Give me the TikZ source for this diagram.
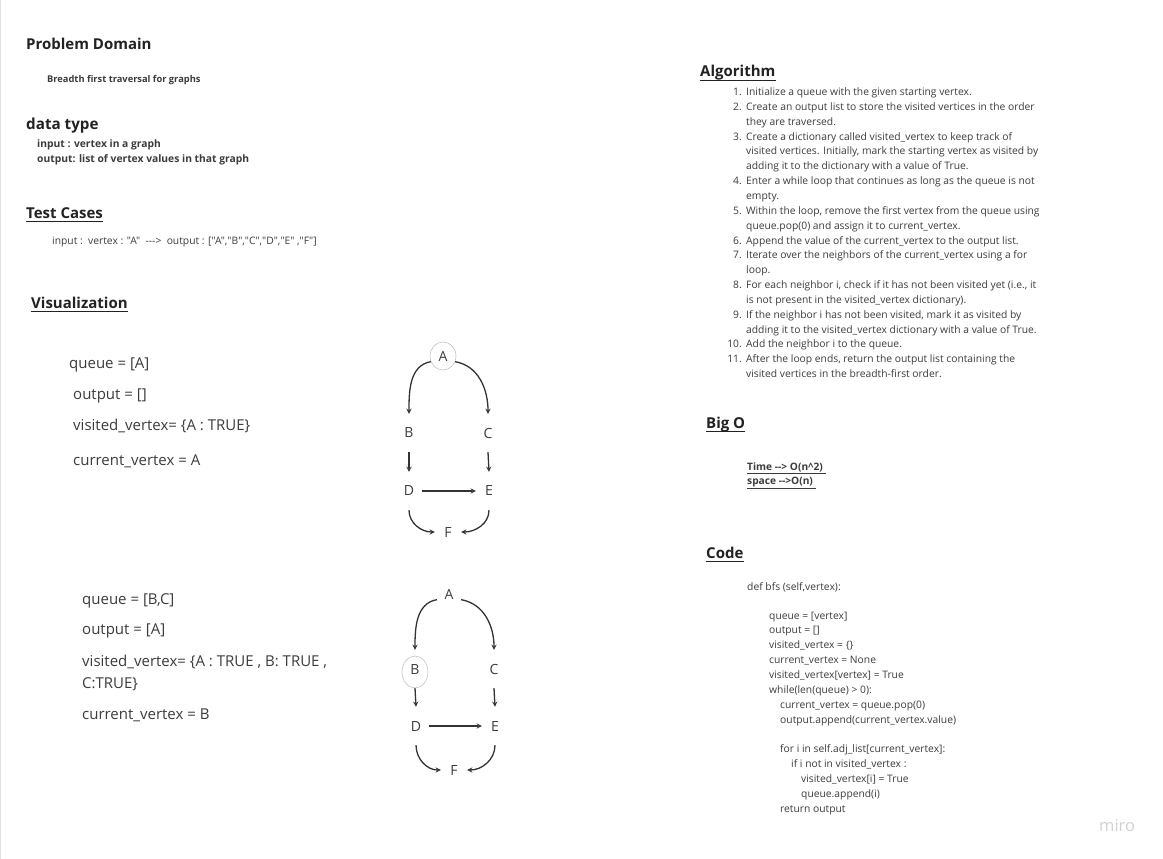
\documentclass[tikz,border=0pt]{standalone}
\usepackage{fontspec}
\setmainfont{Open Sans}[Ligatures=TeXOff]
\usetikzlibrary{shapes.geometric}

\definecolor{tinta}{HTML}{222222}
\definecolor{gris}{HTML}{3C3C3C}
\definecolor{linea}{HTML}{333333}

\tikzset{
  titulo/.style={font=\fontsize{15}{18}\selectfont\bfseries, anchor=base west, inner sep=0, text=tinta},
  chico/.style={font=\fontsize{10.3}{12}\selectfont\bfseries, anchor=base west, inner sep=0, text=gris},
  texto/.style={font=\fontsize{10.3}{12}\selectfont, anchor=base west, inner sep=0, text=gris},
  estado/.style={font=\fontsize{15}{18}\selectfont, anchor=base west, inner sep=0, text=gris},
  vert/.style={font=\fontsize{14}{17}\selectfont, text=gris, minimum width=26pt, minimum height=38pt, inner sep=0},
  flecha/.style={->, >=stealth, line width=1.3pt, draw=linea},
  anillo/.style={draw=gray!55, line width=0.5pt},
}

\begin{document}
\begin{tikzpicture}[x=1pt,y=1pt]
    % Fondo
    \fill[white] (0,0) rectangle (1163,-859);
    \useasboundingbox (0,0) rectangle (1163,-859);
    \draw[gray!25] (0.5,0) -- (0.5,-859);

    % Columna izquierda
    \node[titulo] (prob) at (26,-50) {Problem Domain};
    \node[chico, font=\fontsize{9.3}{11}\selectfont\bfseries] (desc) at (47,-82) {Breadth first traversal for graphs};
    \node[titulo, font=\fontsize{15.2}{18}\selectfont\bfseries] (dtipo) at (26,-129) {data type};
    \node[chico] (ent) at (37,-147) {input : vertex in a graph};
    \node[chico] (sal) at (37,-162) {output: list of vertex values in that graph};
    \node[titulo] (test) at (26,-218) {Test Cases};
    \node[texto] (caso) at (52,-244) {input :\ \ vertex : "A"\ \ --->\ \ output : ["A","B","C","D","E" ,"F"]};
    \node[titulo] (vis) at (31,-308) {Visualization};

    % Estado 1
    \node[estado] (q1) at (69,-368) {queue = [A]};
    \node[estado] (o1) at (73,-399) {output = []};
    \node[estado] (v1) at (73,-430) {visited\_vertex= \{A : TRUE\}};
    \node[estado] (cv1) at (73,-465) {current\_vertex = A};

    % Grafo 1
    \node[vert, ellipse, draw=gray!55, line width=0.5pt, minimum width=26pt, minimum height=28pt] (a1) at (443,-356) {A};
    \node[vert] (b1) at (409,-433) {B};
    \node[vert] (c1) at (488,-433) {C};
    \node[vert] (d1) at (409,-491) {D};
    \node[vert] (e1) at (489,-491) {E};
    \node[vert] (f1) at (448,-532) {F};
    \draw[flecha] (a1.205) to[out=190,in=90] (b1.north);
    \draw[flecha] (a1.335) to[out=-10,in=90] (c1.north);
    \draw[flecha] (b1.south) -- (d1.north);
    \draw[flecha] (c1.south) -- (e1.north);
    \draw[flecha] (d1.east) -- (e1.west);
    \draw[flecha] (d1.south) to[out=-90,in=180] (f1.west);
    \draw[flecha] (e1.south) to[out=-90,in=0] (f1.east);

    % Estado 2
    \node[estado] (q2) at (82,-604) {queue = [B,C]};
    \node[estado] (o2) at (82,-634) {output = [A]};
    \node[estado] (v2) at (82,-666) {visited\_vertex= \{A : TRUE , B: TRUE ,};
    \node[estado] (v2b) at (82,-688) {C:TRUE\}};
    \node[estado] (cv2) at (82,-719) {current\_vertex = B};

    % Grafo 2
    \node[vert, ellipse, minimum width=26pt, minimum height=28pt] (a2) at (449,-594) {A};
    \node[vert] (b2) at (415,-669) {B};
    \node[vert] (c2) at (494,-669) {C};
    \node[vert] (d2) at (416,-726) {D};
    \node[vert] (e2) at (495,-726) {E};
    \node[vert] (f2) at (454,-770) {F};
    \draw[anillo] (415,-672) ellipse [x radius=13, y radius=16];
    \draw[flecha] (a2.205) to[out=190,in=90] (b2.north);
    \draw[flecha] (a2.335) to[out=-10,in=90] (c2.north);
    \draw[flecha] (b2.south) -- (d2.north);
    \draw[flecha] (c2.south) -- (e2.north);
    \draw[flecha] (d2.east) -- (e2.west);
    \draw[flecha] (d2.south) to[out=-90,in=180] (f2.west);
    \draw[flecha] (e2.south) to[out=-90,in=0] (f2.east);

    % Algoritmo
    \node[titulo] (alg) at (700,-77) {Algorithm};
    \foreach \n/\t [count=\k] in {
        1./{Initialize a queue with the given starting vertex.},
        2./{Create an output list to store the visited vertices in the order},
        /{they are traversed.},
        3./{Create a dictionary called visited\_vertex to keep track of},
        /{visited vertices. Initially, mark the starting vertex as visited by},
        /{adding it to the dictionary with a value of True.},
        4./{Enter a while loop that continues as long as the queue is not},
        /{empty.},
        5./{Within the loop, remove the first vertex from the queue using},
        /{queue.pop(0) and assign it to current\_vertex.},
        6./{Append the value of the current\_vertex to the output list.},
        7./{Iterate over the neighbors of the current\_vertex using a for},
        /{loop.},
        8./{For each neighbor i, check if it has not been visited yet (i.e., it},
        /{is not present in the visited\_vertex dictionary).},
        9./{If the neighbor i has not been visited, mark it as visited by},
        /{adding it to the visited\_vertex dictionary with a value of True.},
        10./{Add the neighbor i to the queue.},
        11./{After the loop ends, return the output list containing the},
        /{visited vertices in the breadth-first order.}}
    {
        \node[texto, anchor=base east] (num\k) at (742,{-95.5-14.85*(\k-1)}) {\n};
        \node[texto] (paso\k) at (746,{-95.5-14.85*(\k-1)}) {\t};
    }

    % Big O
    \node[titulo] (bigo) at (706,-428) {Big O};
    \node[chico, font=\fontsize{10.2}{12}\selectfont\bfseries] (tiempo) at (747,-470.5) {\underline{Time --> O(n\textasciicircum2)\ }};
    \node[chico, font=\fontsize{10.2}{12}\selectfont\bfseries] (espacio) at (747,-484.5) {\underline{space -->O(n)\ }};

    % Codigo
    \node[titulo] (codigo) at (706,-558) {Code};
    \foreach \x/\y/\t [count=\k] in {
        747/590.5/{def bfs (self,vertex):},
        769/619.5/{queue = [vertex]},
        769/633.5/{output = []},
        769/648.5/{visited\_vertex = \{\}},
        769/663.5/{current\_vertex = None},
        769/678.5/{visited\_vertex[vertex] = True},
        769/693.5/{while(len(queue) > 0):},
        780/708.5/{current\_vertex = queue.pop(0)},
        780/723.5/{output.append(current\_vertex.value)},
        780/752.5/{for i in self.adj\_list[current\_vertex]:},
        791/767.5/{if i not in visited\_vertex :},
        801/782.5/{visited\_vertex[i] = True},
        801/797.5/{queue.append(i)},
        780/812.5/{return output}}
    {
        \node[texto] (cod\k) at (\x,-\y) {\t};
    }

    % Subrayados
    \foreach \t in {test,vis,alg,bigo,codigo}
        \draw[line width=1.2pt, tinta] ([yshift=-3.5pt]\t.base west) -- ([yshift=-3.5pt]\t.base east);

    % Marca
    \node[anchor=base west, inner sep=0, font=\fontsize{16.5}{19}\selectfont, text=gray!35] (miro) at (1099,-831) {miro};
\end{tikzpicture}
\end{document}
